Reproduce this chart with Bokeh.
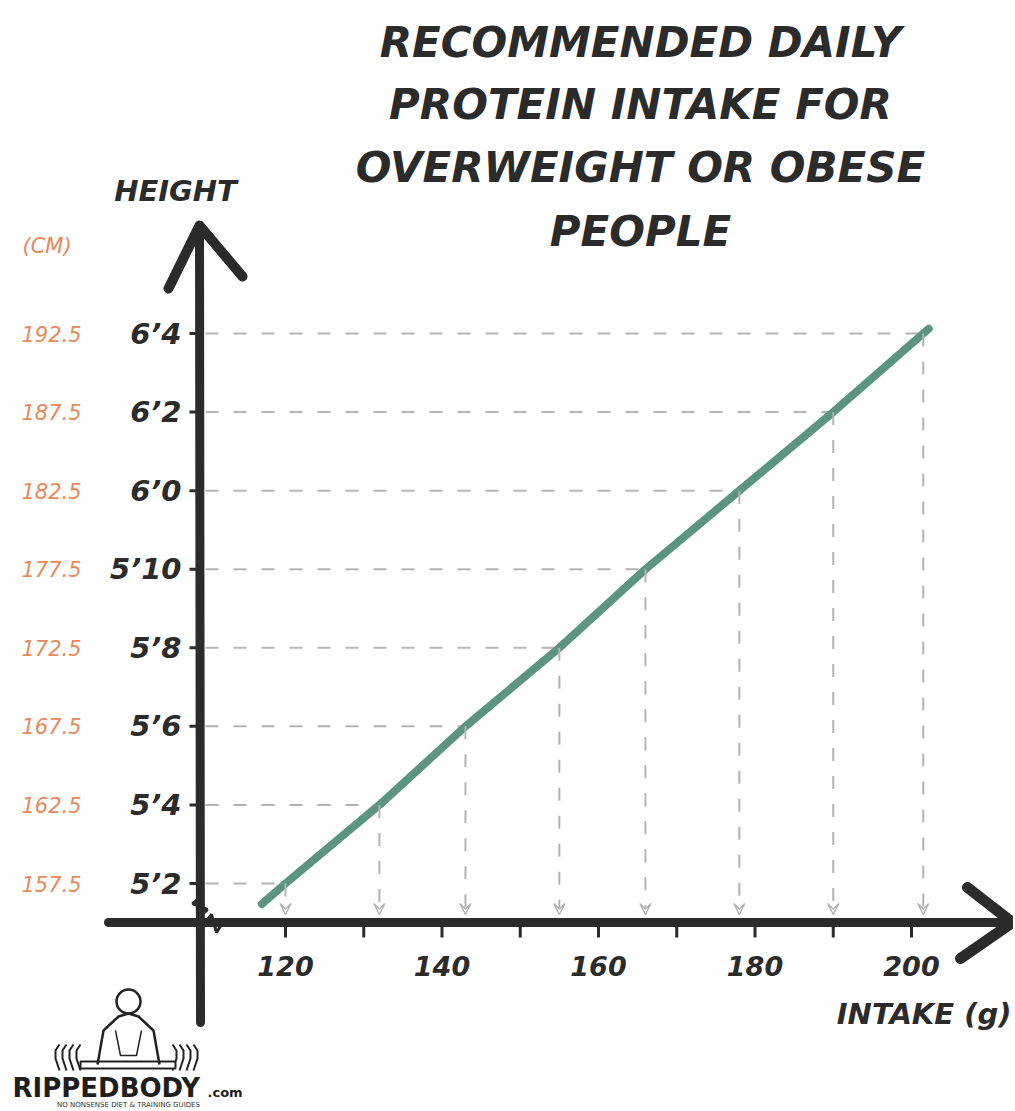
from bokeh.plotting import figure
from bokeh.models import Range1d, Arrow, VeeHead
from bokeh.core.properties import value
from bokeh.embed import file_html
from bokeh.resources import INLINE

# ---------------- data ----------------
heights_cm = [157.5, 162.5, 167.5, 172.5, 177.5, 182.5, 187.5, 192.5]
heights_ft = ["5\u20192", "5\u20194", "5\u20196", "5\u20198", "5\u201910", "6\u20190", "6\u20192", "6\u20194"]
intake_g = [120, 132, 143, 155, 166, 178, 190, 201.5]
x_ticks = [120, 130, 140, 150, 160, 170, 180, 190, 200]
x_tick_labels = ["120", "140", "160", "180", "200"]
x_label_values = [120, 140, 160, 180, 200]
title_lines = ["RECOMMENDED DAILY", "PROTEIN INTAKE FOR", "OVERWEIGHT OR OBESE", "PEOPLE"]

# ---------------- picture geometry -> data helpers ----------------
PXG = 7.825      # px per gram
PXC = 15.714     # px per cm
def gx(px):
    return 120 + (px - 285) / PXG
def hy(py):
    return 157.5 - (py - 883) / PXC

W, H = 1013, 1109
DARK = "#2b2b2b"
ORANGE = "#E8895B"
GREEN = "#5B9580"
GRID = "#b3b3b3"
FONT = value("DejaVu Sans")

p = figure(width=W, height=H, output_backend="svg", toolbar_location=None,
           x_range=Range1d(gx(0), gx(W)), y_range=Range1d(hy(H), hy(0)),
           min_border=0, outline_line_color=None)
p.axis.visible = False
p.grid.visible = False
p.background_fill_color = "white"
p.border_fill_color = "white"

x_axis_h = hy(922)

# ---------------- dashed guide lines ----------------
p.segment(x0=[gx(205)] * len(heights_cm), y0=heights_cm, x1=intake_g, y1=heights_cm,
          line_color=GRID, line_width=2, line_dash="13 15")
for g, h in zip(intake_g, heights_cm):
    p.add_layout(Arrow(x_start=g, y_start=h, x_end=g, y_end=hy(914),
                       line_color=GRID, line_width=2, line_dash="13 15",
                       end=VeeHead(size=11, line_color=GRID, line_width=1.5, fill_alpha=0)))

# ---------------- green line ----------------
slope = (heights_cm[-1] - heights_cm[0]) / (intake_g[-1] - intake_g[0])
lx = [intake_g[0] - 1.3 / slope] + intake_g + [intake_g[-1] + 0.3 / slope]
ly = [heights_cm[0] - 1.3] + heights_cm + [heights_cm[-1] + 0.3]
p.line(lx, ly, line_color=GREEN, line_width=8, line_cap="round")

# ---------------- hand-drawn axes ----------------
p.line([gx(200), gx(199)], [hy(1022), hy(226)], line_color=DARK, line_width=9, line_cap="round")
p.line([gx(168), gx(199), gx(242)], [hy(288), hy(225), hy(276)], line_color=DARK,
       line_width=10, line_cap="round", line_join="round")
p.line([gx(108), gx(1008)], [x_axis_h, x_axis_h], line_color=DARK, line_width=9, line_cap="round")
p.line([gx(967), gx(1012), gx(960)], [hy(887), hy(922), hy(958)], line_color=DARK,
       line_width=11, line_cap="round", line_join="round")
# small break squiggles
p.line([gx(200), gx(192), gx(207), gx(199)], [hy(897), hy(903), hy(909), hy(916)],
       line_color=DARK, line_width=3)
p.line([gx(204), gx(211), gx(216), gx(223)], [hy(923), hy(914), hy(932), hy(921)],
       line_color=DARK, line_width=3)

# ticks
p.segment(x0=x_ticks, y0=[x_axis_h] * len(x_ticks), x1=x_ticks, y1=[hy(937)] * len(x_ticks),
          line_color=DARK, line_width=3)
p.segment(x0=[gx(189)] * len(heights_cm), y0=heights_cm, x1=[gx(200)] * len(heights_cm),
          y1=heights_cm, line_color=DARK, line_width=3)

# ---------------- texts ----------------
p.text(x=[gx(181)] * len(heights_cm), y=heights_cm, text=heights_ft, text_font=FONT,
       text_font_size="29px", text_font_style="bold italic", text_color=DARK,
       text_align="right", text_baseline="middle")
p.text(x=[gx(21)] * len(heights_cm), y=heights_cm, text=[f"{h:.1f}" for h in heights_cm],
       text_font=FONT, text_font_size="21px", text_font_style="italic", text_color=ORANGE,
       text_align="left", text_baseline="middle")
p.text(x=x_label_values, y=[hy(965)] * len(x_label_values), text=x_tick_labels, text_font=FONT,
       text_font_size="27px", text_font_style="bold italic", text_color=DARK,
       text_align="center", text_baseline="middle")
p.text(x=[gx(1011)], y=[hy(1013)], text=["INTAKE (g)"], text_font=FONT,
       text_font_size="29px", text_font_style="bold italic", text_color=DARK,
       text_align="right", text_baseline="middle")
p.text(x=[gx(175)], y=[hy(190)], text=["HEIGHT"], text_font=FONT,
       text_font_size="29px", text_font_style="bold italic", text_color=DARK,
       text_align="center", text_baseline="middle")
p.text(x=[gx(22)], y=[hy(245)], text=["(CM)"], text_font=FONT,
       text_font_size="21px", text_font_style="italic", text_color=ORANGE,
       text_align="left", text_baseline="middle")
title_y = [42, 104, 167, 231]
p.text(x=[gx(640)] * 4, y=[hy(v) for v in title_y], text=title_lines, text_font=FONT,
       text_font_size="42px", text_font_style="bold italic", text_color=DARK,
       text_align="center", text_baseline="middle")

# ---------------- logo ----------------
for base, sgn in ((80, -1), (172, 1)):
    for k in range(4):
        xx = base + sgn * k * 7
        p.line([gx(xx), gx(xx + sgn * 4), gx(xx + sgn * 4), gx(xx)],
               [hy(1070), hy(1058), hy(1050), hy(1044)], line_color="#222222", line_width=2)
p.quad(left=[gx(80)], right=[gx(175)], top=[hy(1061)], bottom=[hy(1068)],
       fill_color="white", line_color="#222222", line_width=2)
p.scatter(x=[gx(128)], y=[hy(1001)], size=24, fill_color="white", line_color="#222222", line_width=2.5)
p.line([gx(97), gx(103), gx(118), gx(128), gx(138), gx(153), gx(159)],
       [hy(1064), hy(1030), hy(1016), hy(1013), hy(1016), hy(1030), hy(1064)],
       line_color="#222222", line_width=2.5)
p.line([gx(115), gx(120), gx(136), gx(141)], [hy(1030), hy(1055), hy(1055), hy(1030)],
       line_color="#222222", line_width=1.5)
p.text(x=[gx(12)], y=[hy(1087)], text=["RIPPEDBODY"], text_font=FONT,
       text_font_size="26px", text_font_style="bold", text_color="#1e1e1e",
       text_align="left", text_baseline="middle")
p.text(x=[gx(207)], y=[hy(1092)], text=[".com"], text_font=FONT,
       text_font_size="13px", text_font_style="bold", text_color="#1e1e1e",
       text_align="left", text_baseline="middle")
p.text(x=[gx(128)], y=[hy(1104)], text=["NO NONSENSE DIET & TRAINING GUIDES"], text_font=FONT,
       text_font_size="7px", text_color="#333333", text_align="center", text_baseline="middle")

open("out.html", "w").write(file_html(p, INLINE))
